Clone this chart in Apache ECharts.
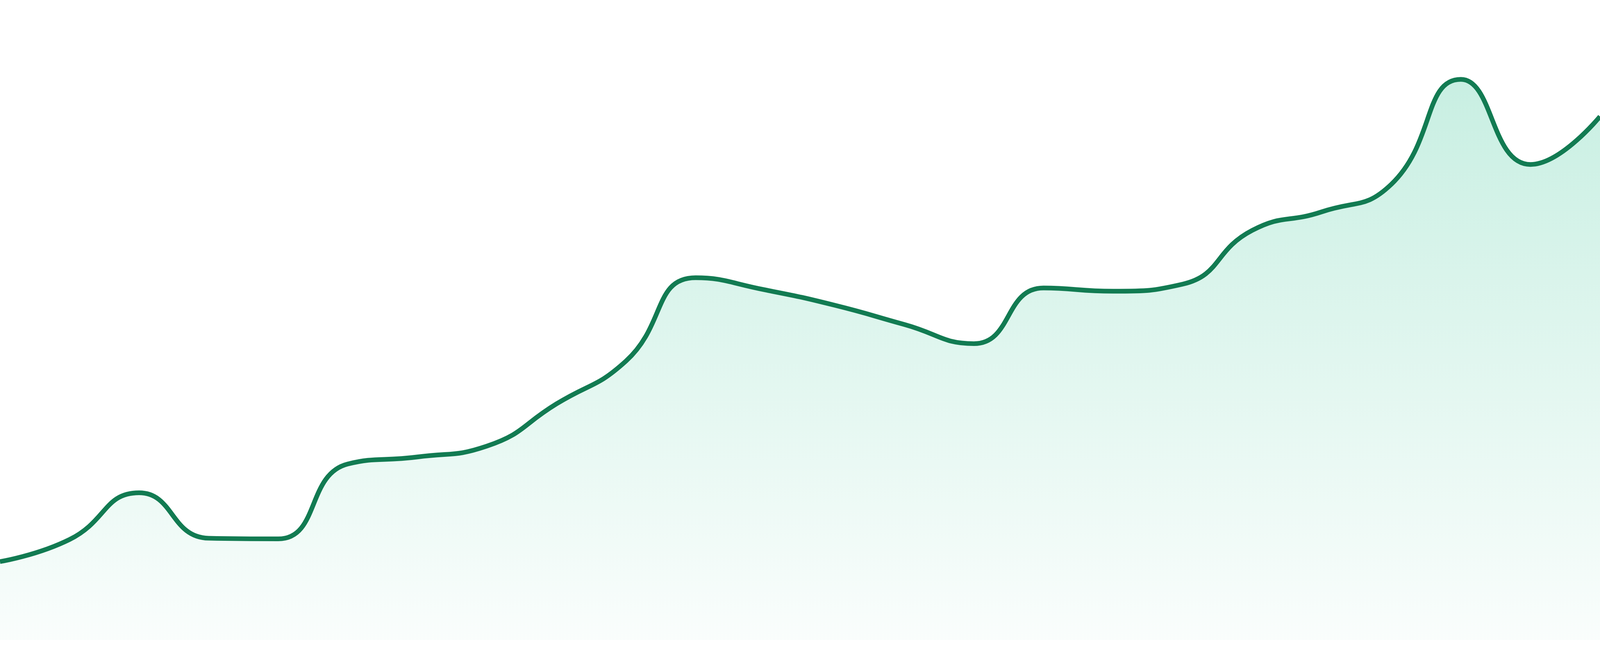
<!DOCTYPE html>
<html>
<head>
<meta charset="utf-8">
<script src="https://cdn.jsdelivr.net/npm/echarts@6/dist/echarts.min.js"></script>
<style>
html,body{margin:0;padding:0;background:#ffffff;width:100%;height:100%;overflow:hidden;}
#chart{width:100vw;height:100vh;}
</style>
</head>
<body>
<div id="chart"></div>
<script>
const categories = ['1','2','3','4','5','6','7','8','9','10','11','12','13','14','15','16','17','18','19','20','21','22','23','24'];
const values = [12.25, 15.7, 23.0, 15.9, 15.8, 27.5, 28.6, 30.3, 36.9, 43.6, 56.6, 54.7, 52.3, 49.3, 46.3, 55.0, 54.5, 55.6, 64.0, 66.9, 71.2, 87.6, 74.3, 81.8];
const yMin = 0;
const yMax = 100;

const el = document.getElementById('chart');
const chart = echarts.init(el, null, {renderer: 'canvas'});
const H = el.clientHeight;
const W = el.clientWidth;
const k = W / 4800;
chart.setOption({
  animation: false,
  backgroundColor: '#ffffff',
  grid: {left: 0, right: 0, top: 0, bottom: Math.round(48 * k)},
  xAxis: {
    type: 'category',
    data: categories,
    boundaryGap: false,
    show: false
  },
  yAxis: {
    type: 'value',
    min: yMin,
    max: yMax,
    show: false,
    splitLine: {show: false}
  },
  series: [{
    type: 'line',
    data: values,
    smooth: true,
    showSymbol: false,
    symbol: 'none',
    lineStyle: {color: '#127b52', width: 14 * k},
    areaStyle: {
      color: new echarts.graphic.LinearGradient(0, 0, 0, 1, [
        {offset: 0, color: 'rgba(16,185,129,0.33)'},
        {offset: 1, color: 'rgba(16,185,129,0.03)'}
      ])
    }
  }]
});
</script>
</body>
</html>
